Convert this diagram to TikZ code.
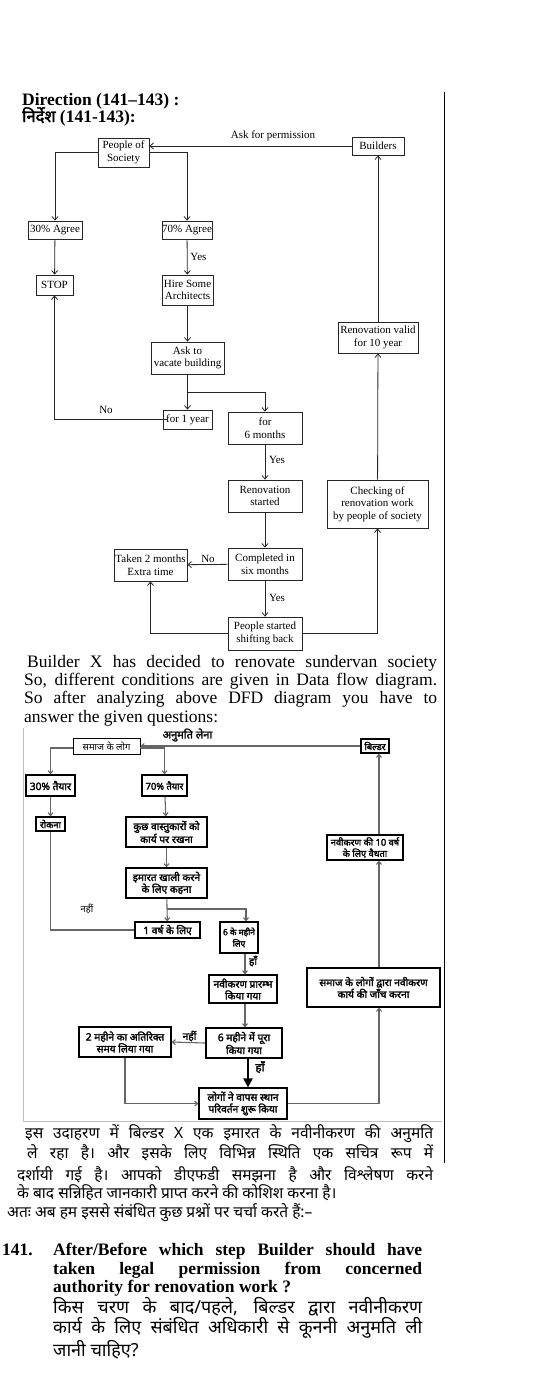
\documentclass[tikz,border=0pt]{standalone}
\usepackage{fontspec}
\setmainfont{Liberation Serif}
\newfontfamily\hin[Script=Devanagari]{Noto Sans}
\newfontfamily\hinb[Script=Devanagari,FakeBold=2.2]{Noto Sans}
\usetikzlibrary{arrows.meta,calc}
\newcommand\fsE{\fontsize{11}{12.5}\selectfont}
\newcommand\fsH{\hinb\fontsize{10.2}{11.8}\selectfont}
\newcommand\fsHs{\hinb\fontsize{9.3}{11.2}\selectfont}
\newcommand\fsHr{\hin\fontsize{9.4}{11.5}\selectfont}
\newcommand\jl[2]{\makebox[#1pt][s]{#2}}
\tikzset{
 eb/.style={draw=black!85, line width=0.8pt, fill=white, inner sep=0pt, align=center, font=\fsE},
 ea/.style={draw=black!85, line width=0.8pt, -{Straight Barb[length=3.5pt,width=6pt]}},
 el/.style={draw=black!85, line width=0.8pt},
 elab/.style={font=\fsE, inner sep=0pt},
 hb/.style={draw=black, line width=1.2pt, fill=white, inner sep=0pt, align=center, font=\fsH},
 ha/.style={draw=black!60, line width=1.1pt, -{Straight Barb[length=3pt,width=5pt]}},
 hl/.style={draw=black!60, line width=1.1pt},
 hlab/.style={font=\fsH, inner sep=0pt},
 txt/.style={anchor=base west, inner sep=0pt},
}
\begin{document}
\begin{tikzpicture}[x=1pt,y=-1pt]
\useasboundingbox (0,0) rectangle (538,1382);
% page rule
\draw[line width=0.9pt] (444,92) -- (444,1163);
% headings
\node[txt, font=\fontsize{17.5}{19}\selectfont\bfseries] (h1t) at (22,105) {Direction (141–143) :};
\node[txt, font=\fontsize{17.5}{19}\selectfont\bfseries] (h2t) at (22,122) {{\hinb\fontsize{16.5}{19}\selectfont निर्देश} (141-143):};
% ===== English flow =====
\node[eb, minimum width=51pt, minimum height=29pt] (pos) at (123.5,152.5) {People of\\Society};
\node[eb, minimum width=52pt, minimum height=18pt] (bld) at (378,146) {Builders};
\node[eb, minimum width=54pt, minimum height=18pt] (a30) at (55,230) {30\% Agree};
\node[eb, minimum width=50pt, minimum height=18pt] (a70) at (187,230) {70\% Agree};
\node[eb, minimum width=37pt, minimum height=20pt] (stop) at (54.5,285) {STOP};
\node[eb, minimum width=51pt, minimum height=30pt] (hire) at (187.5,290) {Hire Some\\Architects};
\node[eb, minimum width=73pt, minimum height=32pt] (vac) at (187.5,358) {Ask to\\vacate building};
\node[eb, minimum width=80pt, minimum height=31pt] (ren10) at (378,337.5) {Renovation valid\\for 10 year};
\node[eb, minimum width=49pt, minimum height=19pt] (for1) at (187.5,419.5) {for 1 year};
\node[eb, minimum width=74pt, minimum height=32pt] (for6) at (265,428) {for\\6 months};
\node[eb, minimum width=74pt, minimum height=32pt] (rst) at (265,496) {Renovation\\started};
\node[eb, minimum width=101pt, minimum height=48pt] (chk) at (377.5,504) {Checking of\\renovation work\\by people of society};
\node[eb, minimum width=74pt, minimum height=32pt] (comp) at (265,564) {Completed in\\six months};
\node[eb, minimum width=73pt, minimum height=32pt] (taken) at (150.5,565) {Taken 2 months\\Extra time};
\node[eb, minimum width=74pt, minimum height=33pt] (psb) at (265,633.5) {People started\\shifting back};
\coordinate (j1) at (187.5,392);
\draw[ea] (bld.west) -- (bld.west -| pos.east);
\node[elab] (lask) at (273,136) {Ask for permission};
\draw[ea] (pos.west) -| (a30.north);
\draw[ea] (pos.east) -| (a70.north);
\draw[ea] (a30) -- (stop);
\draw[ea] (a70) -- (hire);
\node[elab] (ly1) at (198.5,257) {Yes};
\draw[ea] (hire) -- (vac);
\draw[ea] (vac.south) -- (for1.north);
\draw[ea] (j1) -| (for6.north);
\draw[ea] ($(for1.west)+(5,0)$) -| (stop.south);
\node[elab] (ln1) at (106,410) {No};
\draw[ea] (for6) -- (rst);
\node[elab] (ly2) at (277,460) {Yes};
\draw[ea] (rst) -- (comp);
\draw[ea] (comp) -- (taken);
\node[elab] (ln2) at (208,559) {No};
\draw[ea] (comp) -- (psb);
\node[elab] (ly3) at (277,598) {Yes};
\draw[ea] (psb.west) -| (taken.south);
\draw[ea] (psb.east) -| (chk.south);
\draw[ea] (chk) -- (ren10);
\draw[ea] (ren10) -- (bld);
% ===== English paragraph =====
\begin{scope}[font=\fontsize{17.5}{19}\selectfont]
\node[txt] (p1) at (27,667) {\jl{410}{Builder X has decided to renovate sundervan society}};
\node[txt] (p2) at (24,685) {\jl{413}{So, different conditions are given in Data flow diagram.}};
\node[txt] (p3) at (24,703) {\jl{413}{So after analyzing above DFD diagram you have to}};
\node[txt] (p4) at (24,722) {answer the given questions:};
\end{scope}
% ===== Hindi flow =====
\draw[black!25, line width=0.8pt] (23,728) -- (23,1121) -- (442,1121);
\node[hb, font=\fsHr, line width=0.8pt, minimum width=67pt, minimum height=16pt] (hsam) at (106.5,746) {समाज के लोग};
\node[hb, font=\fsHs, minimum width=28pt, minimum height=14pt] (hbld) at (375,746) {बिल्डर};
\node[hb, minimum width=49pt, minimum height=21pt] (h30) at (50.5,785.5) {30\% तैयार};
\node[hb, font=\fsHs, minimum width=45pt, minimum height=21pt] (h70) at (164.5,785.5) {70\% तैयार};
\node[hb, font=\fsHs, minimum width=29pt, minimum height=14pt] (hrok) at (50.5,824) {रोकना};
\node[hb, minimum width=81pt, minimum height=30pt] (hhire) at (166.5,832) {कुछ वास्तुकारों को\\कार्य पर रखना};
\node[hb, minimum width=81pt, minimum height=30pt] (hvac) at (166.5,883) {इमारत खाली करने\\के लिए कहना};
\node[hb, font=\fsHs, minimum width=76pt, minimum height=25pt] (hval) at (365,847.5) {नवीकरण की 10 वर्ष\\के लिए वैधता};
\node[hb, minimum width=65pt, minimum height=16pt] (hone) at (167.5,930) {1 वर्ष के लिए};
\node[hb, font=\hinb\fontsize{8.4}{11.5}\selectfont, minimum width=38pt, minimum height=31pt] (hsix) at (239,937.5) {6 के महीने\\लिए};
\node[hb, minimum width=68pt, minimum height=28pt] (hrst) at (243,989) {नवीकरण प्रारम्भ\\किया गया};
\node[hb, minimum width=76pt, minimum height=30pt] (hcomp) at (244,1043) {6 महीने में पूरा\\किया गया};
\node[hb, minimum width=92pt, minimum height=30pt] (htwo) at (125,1042) {2 महीने का अतिरिक्त\\समय लिया गया};
\node[hb, minimum width=88pt, minimum height=31pt] (hppl) at (243,1103.5) {लोगों ने वापस स्थान\\परिवर्तन शुरू किया};
\node[hb, minimum width=133pt, minimum height=39pt] (hchk) at (373.5,987.5) {समाज के लोगों द्वारा नवीकरण\\कार्य की जाँच करना};
\coordinate (hj) at (166.5,909);
\coordinate (hxa) at (246,0);
\coordinate (hxb) at (245,0);
\coordinate (hxc) at (248,0);
\coordinate (hxd) at (379,0);
\draw[ha] (hbld.west) -- (hsam.east);
\node[hlab, font=\hinb\fontsize{11}{12}\selectfont] (lanu) at (187.5,735) {अनुमति लेना};
\draw[ha] ($(hsam.west)+(0,2)$) -| (h30.north);
\draw[ha] ($(hsam.east)+(0,2)$) -| (h70.north);
\draw[ha] (h30) -- (hrok);
\draw[ha] (h70) -- (hhire);
\draw[ha] (hhire) -- (hvac);
\draw[ha] (hvac) -- (hone);
\draw[ha] (hj) -| (hsix.north -| hxa);
\draw[hl] (hone.west) -| (hrok.south);
\node[hlab, font=\fsHr] (lnh1) at (87,909) {नहीं};
\draw[ha] (hsix.south -| hxb) -- (hrst.north -| hxb);
\node[hlab] (lhh1) at (253,961) {हाँ};
\draw[ha] (hrst.south -| hxb) -- (hcomp.north -| hxb);
\draw[ha] (hcomp.west) -- (htwo.east);
\node[hlab] (lnh2) at (189.5,1036) {नहीं};
\draw[line width=2pt, -{Triangle[length=9pt,width=9pt]}] (hcomp.south -| hxc) -- (hppl.north -| hxc);
\node[hlab, font=\hinb\fontsize{11.5}{12}\selectfont] (lhh2) at (260,1067) {हाँ};
\draw[ha] (htwo.south) |- (hppl.west);
\draw[ha] (hppl.east) -| (hchk.south -| hxd);
\draw[ha] (hchk.north -| hxd) -- (hval.south -| hxd);
\draw[ha] (hval.north -| hxd) -- (hbld.south -| hxd);
% ===== Hindi paragraph =====
\begin{scope}[font=\hin\fontsize{15.5}{20}\selectfont]
\node[txt] (q1) at (25,1138) {\jl{408}{इस उदाहरण में बिल्डर X एक इमारत के नवीनीकरण की अनुमति}};
\node[txt] (q2) at (27,1158) {\jl{406}{ले रहा है। और इसके लिए विभिन्न स्थिति एक सचित्र रूप में}};
\node[txt] (q3) at (17,1180) {\jl{416}{दर्शायी गई है। आपको डीएफडी समझना है और विश्लेषण करने}};
\node[txt] (q4) at (17,1198) {के बाद सन्निहित जानकारी प्राप्त करने की कोशिश करना है।};
\node[txt] (q5) at (7,1217) {अतः अब हम इससे संबंधित कुछ प्रश्नों पर चर्चा करते हैं:–};
\end{scope}
% ===== Question =====
\begin{scope}[font=\fontsize{17.5}{19}\selectfont\bfseries]
\node[txt] (qn) at (2,1255) {141.};
\node[txt] (e1) at (53,1255) {\jl{369}{After/Before which step Builder should have}};
\node[txt] (e2) at (53,1274) {\jl{369}{taken legal permission from concerned}};
\node[txt] (e3) at (53,1292) {authority for renovation work ?};
\end{scope}
\begin{scope}[font=\hin\fontsize{18}{22}\selectfont]
\node[txt] (d1) at (53,1313) {\jl{369}{किस चरण के बाद/पहले, बिल्डर द्वारा नवीनीकरण}};
\node[txt] (d2) at (53,1333) {\jl{369}{कार्य के लिए संबंधित अधिकारी से कूननी अनुमति ली}};
\node[txt] (d3) at (53,1356) {जानी चाहिए?};
\end{scope}
\end{tikzpicture}
\end{document}
